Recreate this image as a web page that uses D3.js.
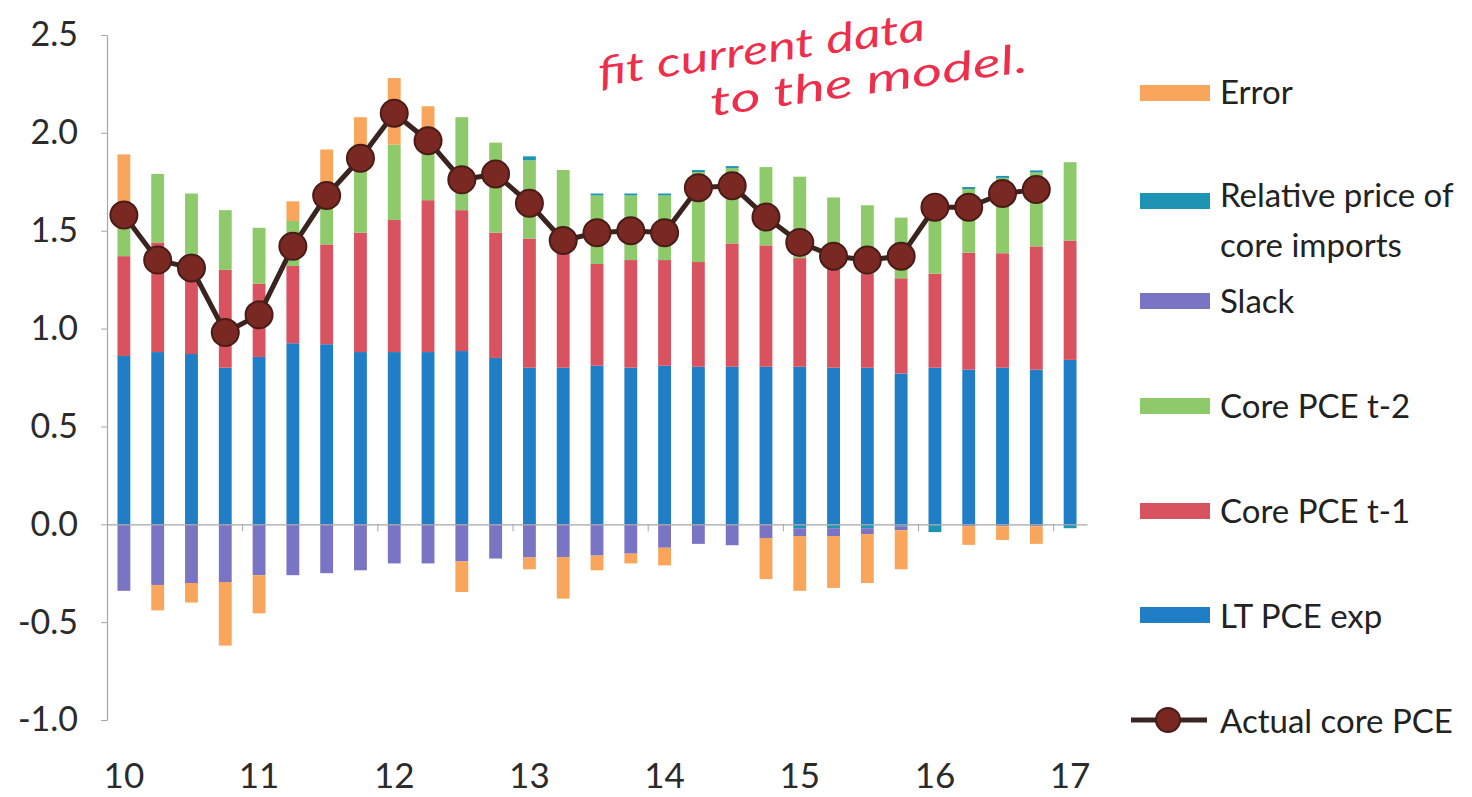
<!DOCTYPE html>
<html>
<head>
<meta charset="utf-8">
<script src="https://cdn.jsdelivr.net/npm/d3@7"></script>
<style>
  body { margin: 0; background: #fff; }
  text { font-family: Lato, "Open Sans", sans-serif; }
</style>
</head>
<body>
<svg id="chart" width="1472" height="797"></svg>
<script>
// Quarterly decomposition of core PCE inflation, 2010Q1 - 2017Q1
const quarters = [
  "2010Q1","2010Q2","2010Q3","2010Q4","2011Q1","2011Q2","2011Q3","2011Q4",
  "2012Q1","2012Q2","2012Q3","2012Q4","2013Q1","2013Q2","2013Q3","2013Q4",
  "2014Q1","2014Q2","2014Q3","2014Q4","2015Q1","2015Q2","2015Q3","2015Q4",
  "2016Q1","2016Q2","2016Q3","2016Q4","2017Q1"
];
const yearLabels = ["10","11","12","13","14","15","16","17"];
const yTicks = [-1.0, -0.5, 0.0, 0.5, 1.0, 1.5, 2.0, 2.5];

const ltPceExp = [0.86,0.88,0.87,0.80,0.855,0.925,0.92,0.88,0.88,0.88,0.885,0.85,0.80,0.80,
                  0.81,0.80,0.81,0.805,0.805,0.805,0.805,0.80,0.80,0.77,0.80,0.79,0.80,0.79,0.84];
const corePceT1 = [0.51,0.56,0.49,0.50,0.375,0.395,0.51,0.61,0.675,0.776,0.72,0.64,0.66,0.585,
                   0.52,0.55,0.54,0.535,0.63,0.62,0.555,0.50,0.48,0.487,0.48,0.598,0.585,0.63,0.61];
const corePceT2 = [0.21,0.35,0.33,0.305,0.285,0.23,0.31,0.43,0.385,0.34,0.475,0.46,0.40,0.425,
                   0.35,0.33,0.33,0.46,0.385,0.40,0.416,0.37,0.35,0.31,0.38,0.325,0.385,0.378,0.40];
const relImportPrice = [0,0,0,0,0,0,0,0,0,0,0,0,0.02,0,
                        0.01,0.01,0.01,0.01,0.01,0,-0.02,-0.02,-0.02,-0.01,-0.04,0.01,0.01,0.01,-0.02];
const slack = [-0.34,-0.31,-0.30,-0.295,-0.26,-0.26,-0.25,-0.235,-0.20,-0.20,-0.19,-0.175,-0.17,-0.167,
               -0.16,-0.15,-0.12,-0.10,-0.107,-0.07,-0.04,-0.04,-0.03,-0.02,0,-0.01,-0.01,-0.01,0];
const errorTerm = [0.31,-0.13,-0.10,-0.325,-0.195,0.10,0.175,0.16,0.34,0.14,-0.156,0,-0.06,-0.213,
                   -0.075,-0.05,-0.09,0,0,-0.21,-0.28,-0.265,-0.25,-0.20,0,-0.095,-0.07,-0.09,0];
const actualCorePce = [1.58,1.35,1.31,0.98,1.07,1.42,1.68,1.87,2.10,1.96,1.76,1.79,1.64,1.45,
                       1.49,1.50,1.49,1.72,1.73,1.57,1.44,1.37,1.35,1.37,1.62,1.62,1.69,1.71];

const seriesKeys = ["lt", "t1", "t2", "rel", "slack", "err"];
const seriesColors = {
  lt: "#1f7ec5", t1: "#d9525f", t2: "#8ec96a",
  rel: "#1d94b3", slack: "#7a74c4", err: "#f9a65c"
};

const rows = quarters.map((q, i) => ({
  q,
  lt: ltPceExp[i], t1: corePceT1[i], t2: corePceT2[i],
  rel: relImportPrice[i], slack: slack[i], err: errorTerm[i]
}));

const svg = d3.select("#chart");

const x = d3.scaleBand()
  .domain(quarters)
  .range([107, 1087])
  .paddingInner(0.62)
  .paddingOuter(0.31);

const y = d3.scaleLinear().domain([-1.0, 2.5]).range([720, 35]);

// y axis
const yAxis = svg.append("g")
  .attr("transform", "translate(107,0)")
  .call(d3.axisLeft(y).tickValues(yTicks).tickFormat(d => d.toFixed(1)).tickSize(6).tickSizeOuter(0).tickPadding(23));
yAxis.select(".domain").attr("stroke", "#a6a6a6").attr("stroke-width", 1.2);
yAxis.selectAll(".tick line").attr("stroke", "#a6a6a6");
yAxis.selectAll(".tick text")
  .attr("fill", "#2b2b2b")
  .style("font-size", "34px")
  .style("font-family", "Lato, sans-serif");

// stacked bars (positive contributions above zero, negative below)
const stack = d3.stack().keys(seriesKeys).offset(d3.stackOffsetDiverging);
const layers = stack(rows);

svg.append("g")
  .selectAll("g")
  .data(layers)
  .join("g")
  .attr("fill", d => seriesColors[d.key])
  .selectAll("rect")
  .data(d => d)
  .join("rect")
  .attr("x", d => x(d.data.q))
  .attr("width", x.bandwidth())
  .attr("y", d => y(Math.max(d[0], d[1])))
  .attr("height", d => Math.abs(y(d[0]) - y(d[1])));

// x axis along zero, ticks at year boundaries
const xIndex = d3.scaleLinear().domain([0, quarters.length]).range(x.range());
const boundaryTicks = d3.range(4, quarters.length + 1, 4);
const xAxis = svg.append("g")
  .attr("transform", `translate(0,${y(0)})`)
  .call(d3.axisBottom(xIndex).tickValues(boundaryTicks).tickFormat("").tickSize(7).tickSizeOuter(0));
xAxis.select(".domain").attr("stroke", "#a6a6a6").attr("stroke-width", 1.2);
xAxis.selectAll(".tick line").attr("stroke", "#a6a6a6");

// year labels under the first quarter of each year
svg.append("g")
  .selectAll("text")
  .data(yearLabels)
  .join("text")
  .attr("x", (d, i) => x(quarters[i * 4]) + x.bandwidth() / 2)
  .attr("y", 788)
  .attr("text-anchor", "middle")
  .attr("fill", "#2b2b2b")
  .style("font-size", "35px")
  .text(d => d);

// actual core PCE line with markers
const linePts = actualCorePce.map((v, i) => [x(quarters[i]) + x.bandwidth() / 2, y(v)]);
svg.append("path")
  .attr("d", d3.line()(linePts))
  .attr("fill", "none")
  .attr("stroke", "#3a2420")
  .attr("stroke-width", 5)
  .attr("stroke-linejoin", "round");
svg.append("g")
  .selectAll("circle")
  .data(linePts)
  .join("circle")
  .attr("cx", d => d[0])
  .attr("cy", d => d[1])
  .attr("r", 13.5)
  .attr("fill", "#7a2822")
  .attr("stroke", "#4a1c18")
  .attr("stroke-width", 2);

// legend
const legendItems = [
  { key: "err", lines: ["Error"], base: 104, sw: 93 },
  { key: "rel", lines: ["Relative price of", "core imports"], base: 207, sw: 201 },
  { key: "slack", lines: ["Slack"], base: 313, sw: 301 },
  { key: "t2", lines: ["Core PCE t-2"], base: 418, sw: 406 },
  { key: "t1", lines: ["Core PCE t-1"], base: 523, sw: 511 },
  { key: "lt", lines: ["LT PCE exp"], base: 628, sw: 615 },
  { key: "actual", lines: ["Actual core PCE"], base: 733, sw: 720 }
];
const legend = svg.append("g");
legendItems.forEach(item => {
  if (item.key === "actual") {
    legend.append("line")
      .attr("x1", 1131).attr("x2", 1207)
      .attr("y1", item.sw).attr("y2", item.sw)
      .attr("stroke", "#3a2420").attr("stroke-width", 5);
    legend.append("circle")
      .attr("cx", 1168).attr("cy", item.sw).attr("r", 12)
      .attr("fill", "#7a2822").attr("stroke", "#4a1c18").attr("stroke-width", 2);
  } else {
    legend.append("rect")
      .attr("x", 1140).attr("y", item.sw - 8)
      .attr("width", 70).attr("height", 16)
      .attr("fill", seriesColors[item.key]);
  }
  item.lines.forEach((t, j) => {
    legend.append("text")
      .attr("x", 1220)
      .attr("y", item.base + j * 50)
      .attr("fill", "#222")
      .style("font-size", "33px")
      .text(t);
  });
});

// handwritten note
const note = svg.append("g")
  .attr("fill", "#ee2f4c")
  .style("font-family", "'DejaVu Sans', sans-serif")
  .style("font-style", "italic")
  .style("font-weight", "normal");
note.append("text")
  .attr("transform", "translate(600,86) rotate(-8)")
  .attr("textLength", 330)
  .attr("lengthAdjust", "spacingAndGlyphs")
  .style("font-size", "40px")
  .text("fit current data");
note.append("text")
  .attr("transform", "translate(712,116) rotate(-8)")
  .attr("textLength", 320)
  .attr("lengthAdjust", "spacingAndGlyphs")
  .style("font-size", "40px")
  .text("to the model.");
</script>
</body>
</html>
